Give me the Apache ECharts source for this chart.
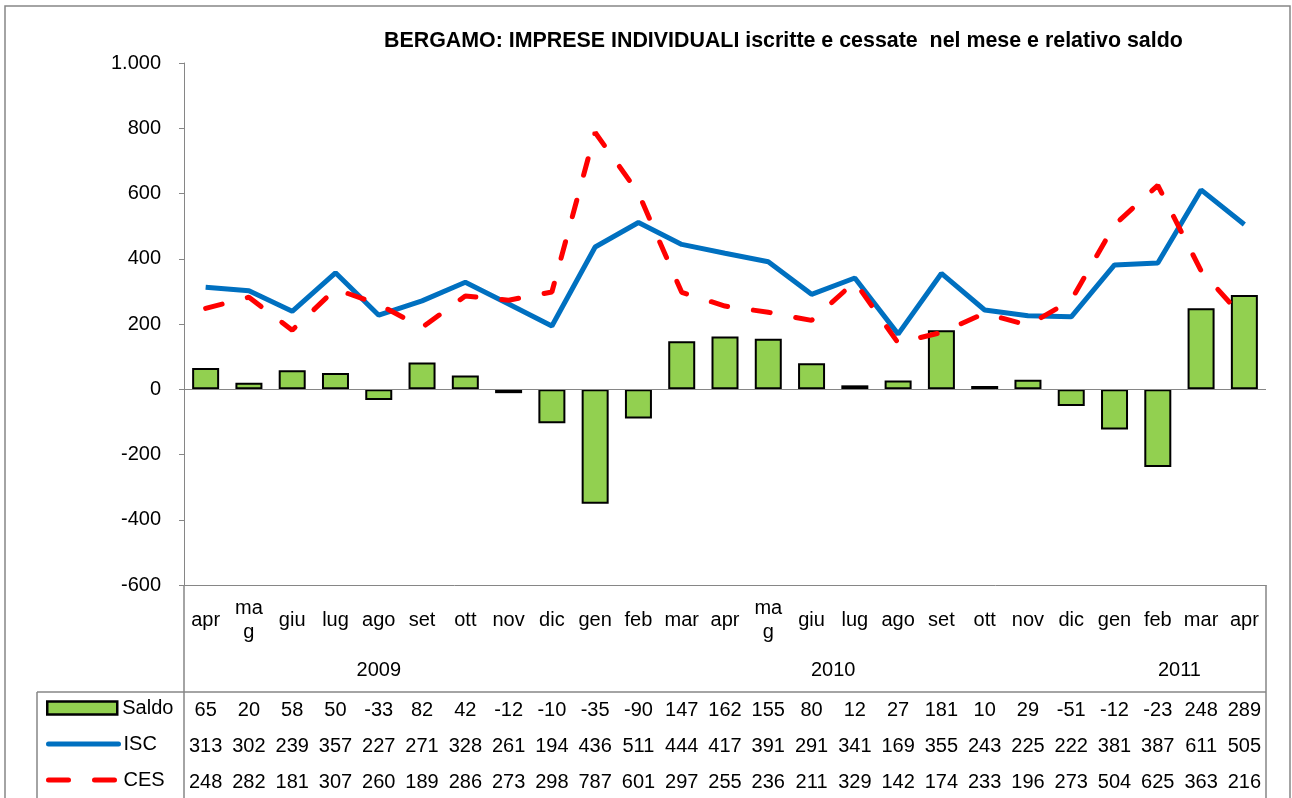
<!DOCTYPE html>
<html>
<head>
<meta charset="utf-8">
<title>Bergamo imprese individuali</title>
<script src="https://cdn.jsdelivr.net/npm/echarts@6/dist/echarts.min.js"></script>
<style>
  html, body { margin: 0; padding: 0; background: #fff; }
  #chart { width: 1292px; height: 798px; }
</style>
</head>
<body>
<div id="chart"></div>
<script>
const months = ['apr','mag','giu','lug','ago','set','ott','nov','dic','gen','feb','mar','apr',
  'mag','giu','lug','ago','set','ott','nov','dic','gen','feb','mar','apr']
const yearNames = ['2009','2010','2011']
const yearCounts = [9, 12, 4]   // quanti mesi per anno
const saldo = [65,20,58,50,-33,82,42,-12,-104,-351,-90,147,162,155,80,12,27,181,10,29,-51,-123,-238,248,289]
const isc = [313,302,239,357,227,271,328,261,194,436,511,444,417,391,291,341,169,355,243,225,222,381,387,611,505]
const ces = [248,282,181,307,260,189,286,273,298,787,601,297,255,236,211,329,142,174,233,196,273,504,625,363,216]

const FONT = 'Liberation Sans, Arial, sans-serif'
const gridLeft = 184
const gridRight = 1266
const plotTop = 63
const plotBottom = 585
const tableSep = 692
const legendLeft = 37
const rowCenters = [710, 746, 782]   // Saldo, ISC, CES

// centro dei gruppi anno, in mezze colonne
const yearLabels = {}
let acc = 0
yearCounts.forEach((n, i) => {
  yearLabels[acc * 2 + n] = yearNames[i]
  acc += n
})

const fmtThousand = v => {
  const s = String(Math.abs(v)).replace(/\B(?=(\d{3})+(?!\d))/g, '.')
  return v < 0 ? '-' + s : s
}

// riga della tabella sotto il grafico
const tableRow = (data, center, fmt) => ({
  type: 'category',
  gridIndex: 0,
  position: 'bottom',
  offset: center - plotBottom,
  data: data.map(fmt || (v => String(v))),
  axisLine: { show: false, onZero: false },
  axisTick: { show: false },
  splitLine: { show: false },
  axisLabel: {
    interval: 0, margin: 0, verticalAlign: 'middle',
    color: '#000', fontSize: 20, fontFamily: FONT
  }
})

// una legenda per riga, così resta allineata alla tabella
const legendRow = (item, center) => ({
  orient: 'vertical',
  left: 46,
  top: center - 12,
  padding: 0,
  itemWidth: 70,
  itemHeight: 13,
  itemGap: 0,
  textStyle: { fontSize: 20, color: '#000', fontFamily: FONT },
  data: [item]
})

const chart = echarts.init(document.getElementById('chart'))
const option = {
  animation: false,
  backgroundColor: '#fff',
  title: {
    text: 'BERGAMO: IMPRESE INDIVIDUALI iscritte e cessate  nel mese e relativo saldo',
    left: 379,
    top: 26,
    textStyle: { fontSize: 21.4, fontWeight: 'bold', color: '#000', fontFamily: FONT }
  },
  grid: {
    left: gridLeft,
    right: 1292 - gridRight,
    top: plotTop,
    bottom: 798 - plotBottom
  },
  legend: [
    legendRow({ name: 'Saldo', icon: 'rect',
      itemStyle: { color: '#92D050', borderColor: '#000', borderWidth: 2.5 } }, rowCenters[0]),
    legendRow({ name: 'ISC', itemStyle: { opacity: 0 },
      lineStyle: { color: '#0070C0', width: 5, cap: 'round' } }, rowCenters[1]),
    legendRow({ name: 'CES', itemStyle: { opacity: 0 },
      lineStyle: { color: '#FF0000', width: 5, type: [20, 26], cap: 'round' } }, rowCenters[2])
  ],
  xAxis: [
    {
      // mesi
      type: 'category',
      position: 'bottom',
      data: months,
      axisLine: { show: true, onZero: false, lineStyle: { color: '#868686', width: 1 } },
      axisTick: { show: false },
      axisLabel: {
        interval: 0, margin: 35, verticalAlign: 'middle',
        width: 36, overflow: 'breakAll', lineHeight: 24,
        color: '#000', fontSize: 20, fontFamily: FONT
      }
    },
    {
      // anni
      type: 'value',
      position: 'bottom',
      offset: 85,
      min: 0,
      max: months.length * 2,
      interval: 1,
      axisLine: { show: false, onZero: false },
      axisTick: { show: false },
      splitLine: { show: false },
      axisLabel: {
        margin: 0, verticalAlign: 'middle',
        showMinLabel: true, showMaxLabel: true,
        color: '#000', fontSize: 20, fontFamily: FONT,
        formatter: v => yearLabels[v] || ''
      }
    },
    // la cella è troppo stretta: i valori a 4 caratteri vengono troncati
    tableRow(saldo, rowCenters[0], v => String(v).slice(0, 3)),
    tableRow(isc, rowCenters[1]),
    tableRow(ces, rowCenters[2])
  ],
  yAxis: {
    type: 'value',
    min: -600,
    max: 1000,
    interval: 200,
    axisLine: { show: true, onZero: false, lineStyle: { color: '#868686', width: 1 } },
    axisTick: { show: true, inside: false, length: 5, lineStyle: { color: '#868686' } },
    splitLine: { show: false },
    axisLabel: {
      margin: 23, color: '#000', fontSize: 20, fontFamily: FONT,
      formatter: fmtThousand
    }
  },
  series: [
    {
      name: 'Saldo',
      type: 'bar',
      data: saldo,
      barWidth: 27,
      itemStyle: { color: '#92D050', borderColor: '#000', borderWidth: 2 },
      markLine: {
        silent: true,
        symbol: 'none',
        label: { show: false },
        lineStyle: { color: '#868686', width: 1, type: 'solid' },
        data: [{ yAxis: 0 }]
      },
      z: 2
    },
    {
      name: 'ISC',
      type: 'line',
      data: isc,
      symbol: 'none',
      lineStyle: { color: '#0070C0', width: 5 },
      itemStyle: { color: '#0070C0' },
      z: 3
    },
    {
      name: 'CES',
      type: 'line',
      data: ces,
      symbol: 'none',
      lineStyle: { color: '#FF0000', width: 5, type: [17, 26], cap: 'round' },
      itemStyle: { color: '#FF0000' },
      z: 4
    }
  ],
  // bordi della tabella e cornice
  graphic: [
    { type: 'rect', shape: { x: 5, y: 6, width: 1285, height: 800 },
      style: { fill: null, stroke: '#868686', lineWidth: 1.5 }, silent: true },
    { type: 'line', shape: { x1: gridLeft, y1: plotBottom, x2: gridLeft, y2: 798 },
      style: { stroke: '#868686', lineWidth: 1.5 }, silent: true },
    { type: 'line', shape: { x1: gridRight, y1: plotBottom, x2: gridRight, y2: 798 },
      style: { stroke: '#868686', lineWidth: 1.5 }, silent: true },
    { type: 'line', shape: { x1: legendLeft, y1: tableSep, x2: gridRight, y2: tableSep },
      style: { stroke: '#868686', lineWidth: 1.5 }, silent: true },
    { type: 'line', shape: { x1: legendLeft, y1: tableSep, x2: legendLeft, y2: 798 },
      style: { stroke: '#868686', lineWidth: 1.5 }, silent: true }
  ]
}
chart.setOption(option)
</script>
</body>
</html>
